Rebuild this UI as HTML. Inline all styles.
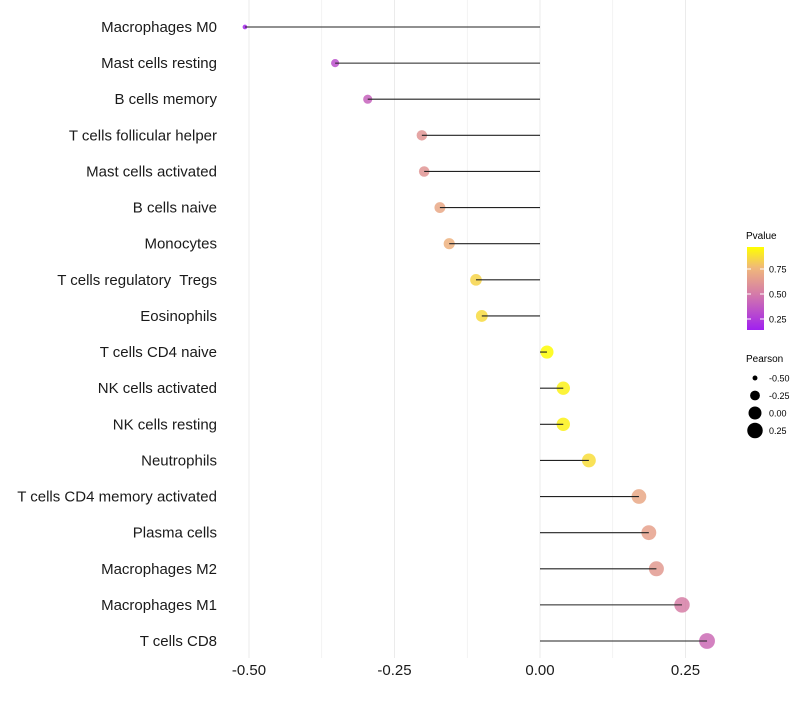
<!DOCTYPE html>
<html><head><meta charset="utf-8"><style>
body{margin:0;background:#fff;font-family:"Liberation Sans",sans-serif}
text{white-space:pre}
</style></head><body>
<svg id="chart" width="800" height="700" xmlns="http://www.w3.org/2000/svg" font-family="Liberation Sans, sans-serif">
<defs><linearGradient id="pg" x1="0" y1="1" x2="0" y2="0">
<stop offset="0" stop-color="#a020f0"/><stop offset="0.45" stop-color="#d67ea6"/><stop offset="0.75" stop-color="#f0b87a"/><stop offset="1" stop-color="#ffff00"/></linearGradient></defs>
<g id="grid"></g>
<g id="dots"></g>
<g id="marks"></g>
<g id="labels"></g>
<g id="xt"></g>
<g>
<text x="746" y="239" font-size="10">Pvalue</text>
<rect x="747" y="247" width="17" height="83" fill="url(#pg)"/>
<g id="cbt"></g>
</g>
<g id="sleg">
<text x="746" y="362" font-size="10">Pearson</text>
</g>
</svg>
<script>
const categories=["Macrophages M0","Mast cells resting","B cells memory","T cells follicular helper","Mast cells activated","B cells naive","Monocytes","T cells regulatory  Tregs","Eosinophils","T cells CD4 naive","NK cells activated","NK cells resting","Neutrophils","T cells CD4 memory activated","Plasma cells","Macrophages M2","Macrophages M1","T cells CD8"];
const pearson=[-0.507,-0.352,-0.296,-0.203,-0.199,-0.172,-0.156,-0.11,-0.1,0.012,0.04,0.04,0.084,0.17,0.187,0.2,0.244,0.287];
const pvalue=[0.12,0.3,0.38,0.6,0.6,0.68,0.72,0.85,0.87,0.99,0.95,0.95,0.88,0.68,0.65,0.62,0.5,0.42];
const xTicks=[-0.5,-0.25,0,0.25];
const xTickLabels=["-0.50","-0.25","0.00","0.25"];
const cbTicks=[0.25,0.5,0.75];
const cbLabels=["0.25","0.50","0.75"];
const sizeTicks=[-0.5,-0.25,0,0.25];
const sizeLabels=["-0.50","-0.25","0.00","0.25"];
const NS="http://www.w3.org/2000/svg";
const x=v=>540+v*582;
const y=i=>27+i*(641-27)/(categories.length-1);
const r=v=>Math.sqrt(Math.max(1.5,42+72*v));
const cb=p=>330-(p-0.14)/(0.97-0.14)*83;
const stops=[[0.1,[160,32,240]],[0.5,[214,126,166]],[0.75,[240,184,122]],[1,[255,255,0]]];
function col(p){p=Math.max(0.1,Math.min(1,p));for(let k=0;k<stops.length-1;k++){const[a,ca]=stops[k],[b,cbb]=stops[k+1];if(p<=b){const t=(p-a)/(b-a);return "rgb("+ca.map((c,j)=>Math.round(c+(cbb[j]-c)*t)).join(",")+")";}}}
function mk(t,at,par){const e=document.createElementNS(NS,t);for(const k in at)e.setAttribute(k,at[k]);par.appendChild(e);return e;}
const grid=document.getElementById('grid');
for(let g=-0.5;g<=0.26;g+=0.125){const l=mk('line',{x1:x(g),x2:x(g),y1:0,y2:658,stroke:'#ebebeb','stroke-width':(Math.abs(g*4-Math.round(g*4))<1e-6)?1:0.6},grid);

}
const marks=document.getElementById('marks'),dots=document.getElementById('dots'),labels=document.getElementById('labels');
categories.forEach((c,i)=>{
const d=mk('circle',{cx:x(pearson[i]),cy:y(i),r:r(pearson[i]),fill:col(pvalue[i]),'fill-opacity':0.85},dots);


const s=mk('line',{x1:x(0),x2:x(pearson[i]),y1:y(i),y2:y(i),stroke:'#222','stroke-width':1.1},marks);


const t=mk('text',{x:217,y:y(i)+5,'text-anchor':'end','font-size':15,fill:'#1a1a1a'},labels);
t.textContent=c;


});
const xt=document.getElementById('xt');
xTicks.forEach((v,i)=>{const t=mk('text',{x:x(v),y:675,'text-anchor':'middle','font-size':15,fill:'#1a1a1a'},xt);t.textContent=xTickLabels[i];

});
const cbt=document.getElementById('cbt');
cbTicks.forEach((v,i)=>{mk('line',{x1:747,x2:751,y1:cb(v),y2:cb(v),stroke:'#fff'},cbt);mk('line',{x1:760,x2:764,y1:cb(v),y2:cb(v),stroke:'#fff'},cbt);
const t=mk('text',{x:769,y:cb(v)+3.5,'font-size':9},cbt);t.textContent=cbLabels[i];

});
const sl=document.getElementById('sleg');
sizeTicks.forEach((v,i)=>{const yy=378+i*17.5;const c=mk('circle',{cx:755,cy:yy,r:r(v),fill:'#000'},sl);


const t=mk('text',{x:769,y:yy+3.5,'font-size':9},sl);t.textContent=sizeLabels[i];

});
</script>
</body></html>
